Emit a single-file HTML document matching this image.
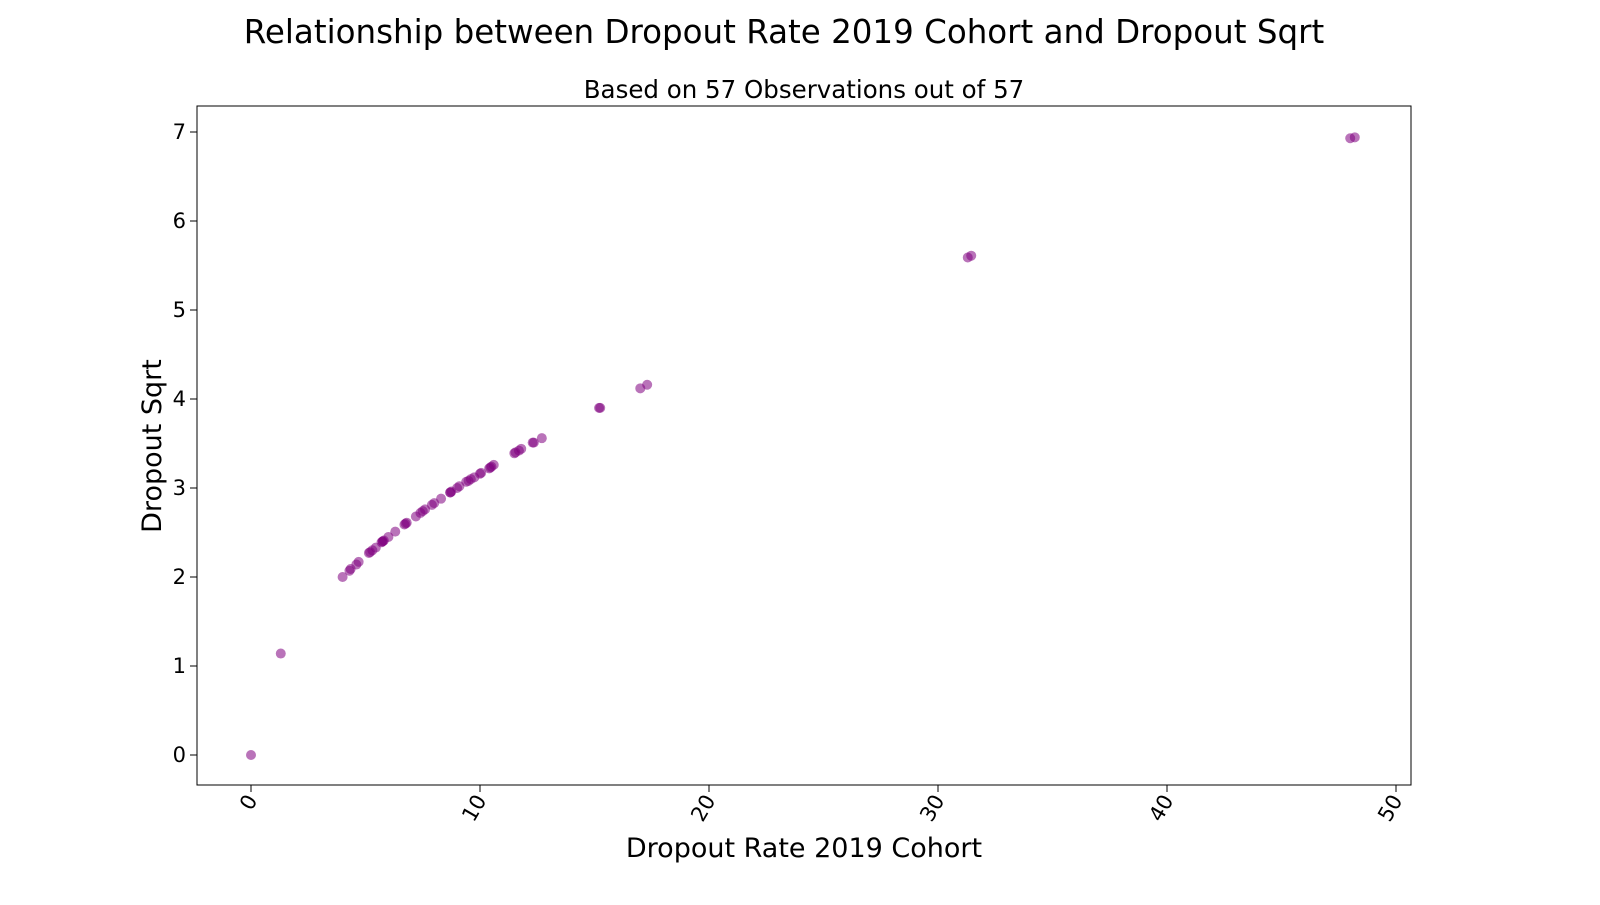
<!DOCTYPE html>
<html><head><meta charset="utf-8"><style>
body{margin:0;background:#fff;font-family:"Liberation Sans","DejaVu Sans",sans-serif}
svg text{font-family:"DejaVu Sans","Liberation Sans",sans-serif;fill:#000}
</style></head><body>
<svg id="chart" width="1600" height="900">
<text x="784" y="43" font-size="32.5" text-anchor="middle">Relationship between Dropout Rate 2019 Cohort and Dropout Sqrt</text>
<text x="804" y="98" font-size="24.5" text-anchor="middle">Based on 57 Observations out of 57</text>
<rect x="197" y="106" width="1214" height="679" fill="none" stroke="#000" stroke-width="1"/>
<g id="xt"></g><g id="yt"></g><g id="pts"></g>
<text x="804" y="857" font-size="27" text-anchor="middle">Dropout Rate 2019 Cohort</text>
<text transform="translate(161,446) rotate(-90)" font-size="27" text-anchor="middle">Dropout Sqrt</text>
</svg>
<script>
const xValues=[0,1.3,4.0,4.3,4.35,4.6,4.7,5.15,5.2,5.3,5.45,5.7,5.75,5.8,6.0,6.3,6.7,6.8,7.2,7.4,7.5,7.6,7.9,8.0,8.3,8.7,8.75,9.0,9.1,9.4,9.5,9.6,9.75,10.0,10.05,10.4,10.5,10.6,11.5,11.55,11.7,11.8,12.3,12.35,12.7,15.2,15.25,17.0,17.3,31.3,31.45,48.0,48.2,5.75,6.75,8.7,10.45];
const yValues=[0,1.14,2.0,2.07,2.09,2.14,2.17,2.27,2.28,2.30,2.33,2.39,2.40,2.41,2.45,2.51,2.59,2.61,2.68,2.72,2.74,2.76,2.81,2.83,2.88,2.95,2.96,3.0,3.02,3.07,3.08,3.10,3.12,3.16,3.17,3.22,3.24,3.26,3.39,3.40,3.42,3.44,3.51,3.51,3.56,3.90,3.90,4.12,4.16,5.59,5.61,6.93,6.94,2.40,2.60,2.95,3.23];
const xTicks=[0,10,20,30,40,50];
const yTicks=[0,1,2,3,4,5,6,7];
const NS="http://www.w3.org/2000/svg";
const sx=v=>251+v*22.9, sy=v=>755-v*89;
const xt=document.getElementById('xt'),yt=document.getElementById('yt'),pts=document.getElementById('pts');
xTicks.forEach(t=>{
 const l=document.createElementNS(NS,'line');
 l.setAttribute('x1',sx(t));l.setAttribute('x2',sx(t));l.setAttribute('y1',785);l.setAttribute('y2',792);l.setAttribute('stroke','#000');
 
 
 xt.appendChild(l);
 const tx=document.createElementNS(NS,'text');
 tx.setAttribute('transform',`translate(${sx(t)+7},${800}) rotate(-60)`);tx.setAttribute('text-anchor','end');tx.setAttribute('font-size','21');tx.textContent=t;
 
 
 xt.appendChild(tx);
});
yTicks.forEach(t=>{
 const l=document.createElementNS(NS,'line');
 l.setAttribute('x1',190);l.setAttribute('x2',197);l.setAttribute('y1',sy(t));l.setAttribute('y2',sy(t));l.setAttribute('stroke','#000');
 
 
 yt.appendChild(l);
 const tx=document.createElementNS(NS,'text');
 tx.setAttribute('x',186);tx.setAttribute('y',sy(t)+7);tx.setAttribute('text-anchor','end');tx.setAttribute('font-size','21');tx.textContent=t;
 
 
 yt.appendChild(tx);
});
xValues.forEach((v,i)=>{
 const c=document.createElementNS(NS,'circle');
 c.setAttribute('cx',sx(v));c.setAttribute('cy',sy(yValues[i]));c.setAttribute('r',5);
 c.setAttribute('fill','#800080');c.setAttribute('fill-opacity','0.55');
 
 
 pts.appendChild(c);
});
</script>
</body></html>
